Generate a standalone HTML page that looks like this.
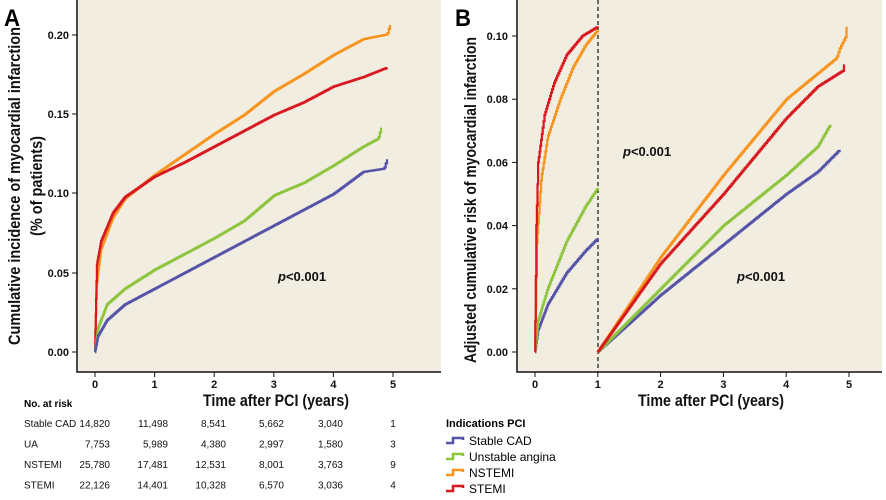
<!DOCTYPE html>
<html><head><meta charset="utf-8"><style>
html,body{margin:0;padding:0;background:#fff;}
svg{display:block;font-family:"Liberation Sans",sans-serif;}
.tk{font-size:11px;font-weight:bold;fill:#111;}
.ax{font-size:17px;font-weight:bold;fill:#111;}
.tb{font-size:10px;fill:#111;}
</style></head><body>
<svg id="s" width="886" height="500" viewBox="0 0 886 500" xmlns="http://www.w3.org/2000/svg">
<rect x="77" y="0" width="364" height="372" fill="#f1ede1"/>
<rect x="517" y="0" width="365" height="372" fill="#f1ede1"/>
<path d="M77,0V372H441M517,0V372H882" fill="none" stroke="#111" stroke-width="1.5"/>
<text x="4" y="26" font-size="24" font-weight="bold" textLength="16" lengthAdjust="spacingAndGlyphs">A</text>
<text x="455" y="26" font-size="24" font-weight="bold" textLength="16" lengthAdjust="spacingAndGlyphs">B</text>
<g id="ticks"></g>
<text class="ax" transform="translate(20,186) rotate(-90)" text-anchor="middle" textLength="318" lengthAdjust="spacingAndGlyphs">Cumulative incidence of myocardial infarction</text>
<text class="ax" transform="translate(42,186) rotate(-90)" text-anchor="middle" textLength="100" lengthAdjust="spacingAndGlyphs">(% of patients)</text>
<text class="ax" transform="translate(476,200) rotate(-90)" text-anchor="middle" textLength="326" lengthAdjust="spacingAndGlyphs">Adjusted cumulative risk of myocardial infarction</text>
<text class="ax" x="276" y="406" text-anchor="middle" textLength="146" lengthAdjust="spacingAndGlyphs">Time after PCI (years)</text>
<text class="ax" x="711" y="406" text-anchor="middle" textLength="146" lengthAdjust="spacingAndGlyphs">Time after PCI (years)</text>
<line x1="598" y1="0" x2="598" y2="372" stroke="#111" stroke-width="1.2" stroke-dasharray="4,3"/>
<g id="curves" fill="none" stroke-width="2.2" stroke-linejoin="miter"></g>
<g font-size="13" font-weight="bold" fill="#111">
<text x="278" y="281"><tspan font-style="italic">p</tspan>&lt;0.001</text>
<text x="623" y="156"><tspan font-style="italic">p</tspan>&lt;0.001</text>
<text x="737" y="281"><tspan font-style="italic">p</tspan>&lt;0.001</text>
</g>
<text x="24" y="407" font-size="10" font-weight="bold">No. at risk</text>
<g id="tbl" class="tb"></g>
<text x="446" y="427" font-size="11" font-weight="bold">Indications PCI</text>
<g id="leg" font-size="12"></g>
</svg>
<script>
var NS="http://www.w3.org/2000/svg",s=document.getElementById('s');
function el(p,t,a,txt){var e=document.createElementNS(NS,t);for(var k in a)e.setAttribute(k,a[k]);if(txt!=null)e.textContent=txt;document.getElementById(p).appendChild(e);return e;}
var ya=[["0.00",352],["0.05",273],["0.10",193],["0.15",114],["0.20",35]];
ya.forEach(function(t){el('ticks','line',{x1:72,x2:77,y1:t[1],y2:t[1],stroke:'#111'});el('ticks','text',{x:69,y:t[1]+4,'text-anchor':'end','class':'tk'},t[0]);});
for(var i=0;i<=5;i++){var x=95+i*59.6;el('ticks','line',{x1:x,x2:x,y1:372,y2:377,stroke:'#111'});el('ticks','text',{x:x,y:388,'text-anchor':'middle','class':'tk'},i);}
var yb=["0.00","0.02","0.04","0.06","0.08","0.10"];
yb.forEach(function(t,j){var y=352-j*63.2;el('ticks','line',{x1:512,x2:517,y1:y,y2:y,stroke:'#111'});el('ticks','text',{x:508,y:y+4,'text-anchor':'end','class':'tk'},t);});
for(var i=0;i<=5;i++){var x=535+i*62.8;el('ticks','line',{x1:x,x2:x,y1:372,y2:377,stroke:'#111'});el('ticks','text',{x:x,y:388,'text-anchor':'middle','class':'tk'},i);}
var C={b:"#5553a8",g:"#8cc43c",o:"#f7941d",r:"#d7191f"};
function interp(pts,t){for(var i=1;i<pts.length;i++){if(t<=pts[i][0]){var a=pts[i-1],b=pts[i];return a[1]+(b[1]-a[1])*(t-a[0])/(b[0]-a[0]);}}return pts[pts.length-1][1];}
function curve(pts,x0,xs,ys,col,seed){var t0=pts[0][0],t1=pts[pts.length-1][0];var d="M"+(x0+t0*xs).toFixed(1)+","+(352-pts[0][1]*ys).toFixed(1);var n=Math.max(20,Math.round((t1-t0)*60));
for(var i=1;i<=n;i++){var t=t0+(t1-t0)*Math.pow(i/n,1.3);var v=interp(pts,t);var x=(x0+t*xs).toFixed(1),y=(352-v*ys).toFixed(1);d+="H"+x+"V"+y;}
el('curves','path',{d:d,stroke:col});}
var xa=95,sa=59.6,ya2=1580;
curve([[0,0],[0.02,0.04],[0.1,0.065],[0.3,0.085],[0.5,0.097],[1,0.112],[1.5,0.125],[2,0.138],[2.5,0.15],[3,0.165],[3.5,0.176],[4,0.188],[4.5,0.198],[4.9,0.201],[4.95,0.207]],xa,sa,ya2,C.o,1);
curve([[0,0],[0.03,0.055],[0.1,0.07],[0.3,0.088],[0.5,0.098],[1,0.111],[1.5,0.12],[2,0.13],[2.5,0.14],[3,0.15],[3.5,0.158],[4,0.168],[4.5,0.174],[4.9,0.18]],xa,sa,ya2,C.r,2);
curve([[0,0],[0.05,0.015],[0.2,0.03],[0.5,0.04],[1,0.052],[1.5,0.062],[2,0.072],[2.5,0.083],[3,0.099],[3.5,0.107],[4,0.118],[4.5,0.13],[4.75,0.135],[4.8,0.142]],xa,sa,ya2,C.g,3);
curve([[0,0],[0.05,0.01],[0.2,0.02],[0.5,0.03],[1,0.04],[1.5,0.05],[2,0.06],[2.5,0.07],[3,0.08],[3.5,0.09],[4,0.1],[4.5,0.114],[4.85,0.116],[4.9,0.122]],xa,sa,ya2,C.b,4);
var xb=535,sb=62.8,yb2=3160;
curve([[0,0],[0.05,0.007],[0.2,0.015],[0.5,0.025],[0.8,0.032],[1,0.036]],xb,sb,yb2,C.b,5);
curve([[0,0],[0.05,0.01],[0.2,0.02],[0.5,0.035],[0.8,0.046],[1,0.052]],xb,sb,yb2,C.g,6);
curve([[0,0],[0.03,0.035],[0.1,0.055],[0.2,0.068],[0.4,0.08],[0.6,0.09],[0.8,0.097],[1,0.102]],xb,sb,yb2,C.o,7);
curve([[0,0],[0.02,0.04],[0.05,0.06],[0.15,0.075],[0.3,0.085],[0.5,0.094],[0.75,0.1],[1,0.103]],xb,sb,yb2,C.r,8);
curve([[1,0],[2,0.018],[3,0.034],[4,0.05],[4.5,0.057],[4.85,0.064]],xb,sb,yb2,C.b,9);
curve([[1,0],[2,0.02],[3,0.04],[4,0.056],[4.5,0.065],[4.7,0.072]],xb,sb,yb2,C.g,10);
curve([[1,0],[2,0.03],[3,0.056],[4,0.08],[4.8,0.093],[4.85,0.096],[4.95,0.1],[4.96,0.103]],xb,sb,yb2,C.o,11);
curve([[1,0],[2,0.028],[3,0.05],[4,0.074],[4.5,0.084],[4.9,0.089],[4.92,0.091]],xb,sb,yb2,C.r,12);
var rows=[["Stable CAD","14,820","11,498","8,541","5,662","3,040","1"],["UA","7,753","5,989","4,380","2,997","1,580","3"],["NSTEMI","25,780","17,481","12,531","8,001","3,763","9"],["STEMI","22,126","14,401","10,328","6,570","3,036","4"]];
var cx=[110,168,226,284,343];
rows.forEach(function(r,i){var y=427+i*20.5;el('tbl','text',{x:24,y:y},r[0]);for(var j=0;j<5;j++)el('tbl','text',{x:cx[j],y:y,'text-anchor':'end'},r[j+1]);el('tbl','text',{x:393,y:y,'text-anchor':'middle'},r[6]);});
var lg=[["Stable CAD",C.b],["Unstable angina",C.g],["NSTEMI",C.o],["STEMI",C.r]];
lg.forEach(function(l,i){var y=441+i*16;el('leg','path',{d:"M446,"+(y+2)+"H453V"+(y-3)+"H463V"+(y-1),stroke:l[1],'stroke-width':2.5,fill:'none'});el('leg','text',{x:469,y:y+4},l[0]);});
</script>
</body></html>
